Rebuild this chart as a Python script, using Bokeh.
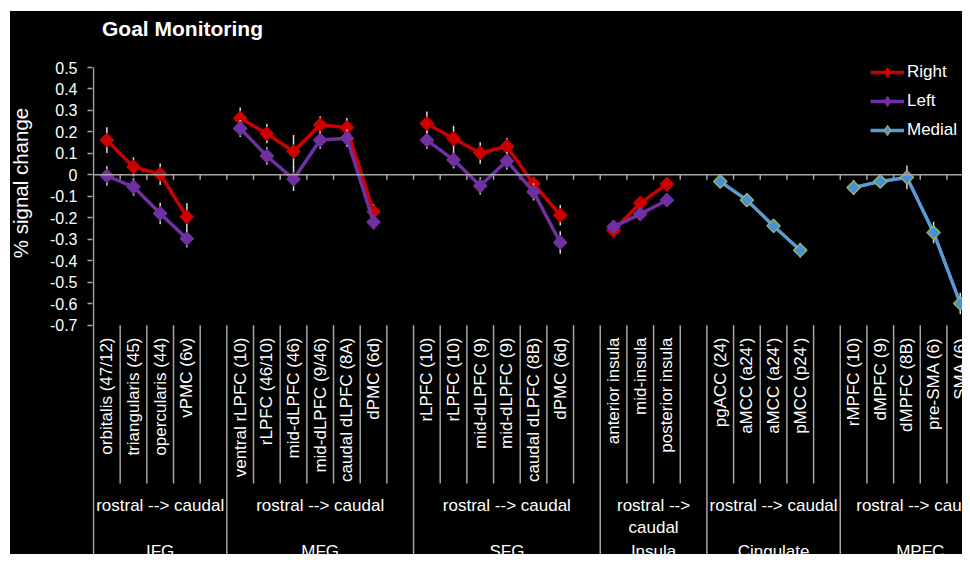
import numpy as np
from bokeh.plotting import figure
from bokeh.layouts import row, column
from bokeh.models import Range1d, FixedTicker, Span, Legend, LegendItem, Spacer
from bokeh.core.properties import value
from bokeh.embed import file_html
from bokeh.resources import INLINE

# ---------------- data ----------------
groups = ["IFG", "MFG", "SFG", "Insula", "Cingulate", "MPFC"]
group_sub = ["rostral --> caudal", "rostral --> caudal", "rostral --> caudal",
             "rostral -->\ncaudal", "rostral --> caudal", "rostral --> caudal"]

ifg_regions = ["orbitalis (47/12)", "triangularis (45)", "opercularis (44)", "vPMC (6v)"]
mfg_regions = ["ventral rLPFC (10)", "rLPFC (46/10)", "mid-dLPFC (46)", "mid-dLPFC (9/46)",
               "caudal dLPFC (8A)", "dPMC (6d)"]
sfg_regions = ["rLPFC (10)", "rLPFC (10)", "mid-dLPFC (9)", "mid-dLPFC (9)",
               "caudal dLPFC (8B)", "dPMC (6d)"]
insula_regions = ["anterior insula", "mid-insula", "posterior insula"]
cing_regions = ["pgACC (24)", "aMCC (a24\u2019)", "aMCC (a24\u2019)", "pMCC (p24\u2019)"]
mpfc_regions = ["rMPFC (10)", "dMPFC (9)", "dMPFC (8B)", "pre-SMA (6)", "SMA (6)"]

# Right hemisphere
right_ifg = [0.162, 0.037, 0.003, -0.196]
right_mfg = [0.264, 0.192, 0.109, 0.233, 0.220, -0.171]
right_sfg = [0.239, 0.169, 0.102, 0.132, -0.041, -0.188]
right_insula = [-0.258, -0.132, -0.043]
right_ifg_err = [0.060, 0.045, 0.050, 0.065]
right_mfg_err = [0.050, 0.045, 0.077, 0.040, 0.045, 0.035]
right_sfg_err = [0.056, 0.060, 0.050, 0.040, 0.030, 0.048]
right_insula_err = [0.030, 0.030, 0.030]

# Left hemisphere
left_ifg = [-0.005, -0.056, -0.180, -0.297]
left_mfg = [0.216, 0.088, -0.020, 0.162, 0.171, -0.220]
left_sfg = [0.162, 0.070, -0.051, 0.065, -0.079, -0.315]
left_insula = [-0.242, -0.183, -0.118]
left_ifg_err = [0.045, 0.040, 0.050, 0.040]
left_mfg_err = [0.040, 0.040, 0.055, 0.040, 0.040, 0.033]
left_sfg_err = [0.040, 0.040, 0.040, 0.040, 0.040, 0.052]
left_insula_err = [0.030, 0.030, 0.030]

# Medial
medial_cing = [-0.031, -0.118, -0.238, -0.351]
medial_mpfc = [-0.059, -0.031, -0.012, -0.269, -0.599]
medial_cing_err = [0.030, 0.030, 0.030, 0.035]
medial_mpfc_err = [0.035, 0.030, 0.055, 0.050, 0.050]

yticks = [-0.7, -0.6, -0.5, -0.4, -0.3, -0.2, -0.1, 0.0, 0.1, 0.2, 0.3, 0.4, 0.5]
ytick_labels = ["-0.7", "-0.6", "-0.5", "-0.4", "-0.3", "-0.2", "-0.1", "0",
                "0.1", "0.2", "0.3", "0.4", "0.5"]

# ---------------- layout constants (picture pixels) ----------------
PAD_L, PAD_T = 10, 11       # white margin of the picture
LAB_W = 30                  # strip holding the value-axis title
FIG_R, FIG_B = 962, 554     # right / bottom edge of the drawing
AXIS_PX = 93                # value axis position
FRAME_L = 92                # left edge of the plot frame
SLOT_PX = 26.67             # width of one category slot
PX_PER_UNIT = 214.7         # px per 1.0 of % signal change
ZERO_PX = 67 + 0.5 * PX_PER_UNIT


def dy(py):
    return (ZERO_PX - py) / PX_PER_UNIT


def dx(px):
    return (px - AXIS_PX) / SLOT_PX


regions = [ifg_regions, mfg_regions, sfg_regions, insula_regions, cing_regions, mpfc_regions]
sizes = [len(r) + 1 for r in regions]          # one empty slot after each group
starts = np.concatenate([[0], np.cumsum(sizes)[:-1]])
ends = np.cumsum(sizes)
xpos = [[s + i + 0.5 for i in range(len(r))] for s, r in zip(starts, regions)]

FONT = value("Liberation Sans")
TXT = "#FFFFFF"
GRAY = "#A6A6A6"

fig_left = PAD_L + LAB_W
W = FIG_R - fig_left
H = FIG_B - PAD_T
p = figure(width=W, height=H, output_backend="svg", toolbar_location=None,
           x_range=Range1d(dx(FRAME_L), dx(FIG_R)),
           y_range=Range1d(dy(FIG_B), dy(PAD_T)),
           x_axis_location=None,
           background_fill_color="black", border_fill_color="black",
           min_border_left=FRAME_L - fig_left, min_border_right=0,
           min_border_top=0, min_border_bottom=0)
p.outline_line_color = None
p.xgrid.visible = False
p.ygrid.visible = False

ax = p.yaxis[0]
ax.ticker = FixedTicker(ticks=yticks)
ax.major_label_overrides = dict(zip(yticks, ytick_labels))
ax.axis_line_color = None
ax.major_tick_line_color = GRAY
ax.major_tick_line_width = 1.5
ax.major_tick_out = 5
ax.major_tick_in = 0
ax.minor_tick_line_color = None
ax.major_label_text_color = TXT
ax.major_label_text_font = "Liberation Sans"
ax.major_label_text_font_size = "16px"
ax.major_label_standoff = 10

# value axis line (from the top tick down through the category table)
p.segment(x0=[0], x1=[0], y0=[max(yticks)], y1=[-3], line_color=GRAY, line_width=1.5)

# zero line with category tick marks
p.add_layout(Span(location=0, dimension="width", line_color=GRAY, line_width=1.5))
bounds = np.arange(1, ends[-1] + 1)
p.segment(x0=bounds, x1=bounds, y0=0, y1=dy(ZERO_PX + 5), line_color=GRAY, line_width=1.5)

# category table separators
group_bounds = set(int(e) for e in ends)
short_b = [b for b in bounds if int(b) not in group_bounds]
long_b = [b for b in bounds if int(b) in group_bounds]
p.segment(x0=short_b, x1=short_b, y0=min(yticks), y1=dy(483), line_color=GRAY, line_width=1.5)
p.segment(x0=long_b, x1=long_b, y0=min(yticks), y1=-3, line_color=GRAY, line_width=1.5)

# level-1 labels
lx = [x for xs in xpos for x in xs]
ltxt = [t for r in regions for t in r]
p.text(x=lx, y=[dy(337)] * len(lx), text=ltxt, angle=np.pi / 2,
       text_align="right", text_baseline="middle", text_color=TXT,
       text_font=FONT, text_font_size="17px")

# level-2 labels
gx = [(s + e) / 2 for s, e in zip(starts, ends)]
p.text(x=gx, y=[dy(495)] * len(gx), text=group_sub, text_align="center",
       text_baseline="top", text_color=TXT, text_font=FONT, text_font_size="17px")

# level-3 labels
p.text(x=gx, y=[dy(541)] * len(gx), text=groups, text_align="center",
       text_baseline="top", text_color=TXT, text_font=FONT, text_font_size="17px")


def series(parts, errs, gidx):
    xs, ys = [], []
    for k, (vals, g) in enumerate(zip(parts, gidx)):
        if k > 0:
            xs.append(np.nan)
            ys.append(np.nan)
        xs += xpos[g]
        ys += vals
    ex = [x for g in gidx for x in xpos[g]]
    ey = [v for vals in parts for v in vals]
    ee = [e for er in errs for e in er]
    return xs, ys, ex, ey, ee


def draw(parts, errs, gidx, color, fill, edge):
    xs, ys, ex, ey, ee = series(parts, errs, gidx)
    ln = p.line(xs, ys, line_color=color, line_width=3.5)
    ey = np.array(ey)
    ee = np.array(ee)
    p.segment(x0=ex, x1=ex, y0=ey - ee, y1=ey + ee, line_color="#D9D9D9", line_width=1.5)
    p.scatter(ex, ey, marker="square", angle=np.pi / 4, size=9.5,
              fill_color=fill, line_color=edge, line_width=1.2)
    # legend sample marker (diamond; its single NaN point is never drawn in the plot)
    lg = p.scatter(x=[np.nan], y=[np.nan], marker="diamond", size=10,
                   fill_color=fill, line_color=edge, line_width=1.2)
    return ln, lg


r_ln, r_sc = draw([right_ifg, right_mfg, right_sfg, right_insula],
                  [right_ifg_err, right_mfg_err, right_sfg_err, right_insula_err],
                  [0, 1, 2, 3], "#CC0000", "#CC0000", "#CC0000")
l_ln, l_sc = draw([left_ifg, left_mfg, left_sfg, left_insula],
                  [left_ifg_err, left_mfg_err, left_sfg_err, left_insula_err],
                  [0, 1, 2, 3], "#7030A0", "#7030A0", "#7030A0")
m_ln, m_sc = draw([medial_cing, medial_mpfc], [medial_cing_err, medial_mpfc_err],
                  [4, 5], "#5B9BD5", "#4A8FD8", "#9BBB59")

legend = Legend(items=[LegendItem(label="Right", renderers=[r_ln, r_sc]),
                       LegendItem(label="Left", renderers=[l_ln, l_sc]),
                       LegendItem(label="Medial", renderers=[m_ln, m_sc])],
                location=(870 - FRAME_L, FIG_B - 142),
                background_fill_alpha=0, border_line_alpha=0,
                label_text_color=TXT, label_text_font="Liberation Sans",
                label_text_font_size="17px", glyph_width=34, glyph_height=24,
                label_height=24, spacing=5, padding=0, margin=0, label_standoff=3)
p.add_layout(legend)

# chart title
p.text(x=[dx(182)], y=[dy(28)], text=["Goal Monitoring"], text_align="center",
       text_baseline="alphabetic", text_color=TXT, text_font=FONT,
       text_font_size="21px", text_font_style="bold")

# value-axis title in its own strip
lab = figure(width=LAB_W, height=H, output_backend="svg", toolbar_location=None,
             x_range=Range1d(0, LAB_W), y_range=Range1d(0, H),
             x_axis_location=None, y_axis_location=None,
             background_fill_color="black", border_fill_color="black",
             min_border=0)
lab.outline_line_color = None
lab.xgrid.visible = False
lab.ygrid.visible = False
lab.text(x=[20 - PAD_L], y=[H - (182.5 - PAD_T)], text=["% signal change"], angle=np.pi / 2,
         text_align="center", text_baseline="middle", text_color=TXT, text_font=FONT,
         text_font_size="20.5px")

inner = row(lab, p, spacing=0, styles={"background-color": "black"})
layout = row(Spacer(width=PAD_L, height=H + PAD_T),
             column(Spacer(width=W + LAB_W, height=PAD_T), inner, spacing=0),
             spacing=0)

open("out.html", "w").write(file_html(layout, INLINE))
